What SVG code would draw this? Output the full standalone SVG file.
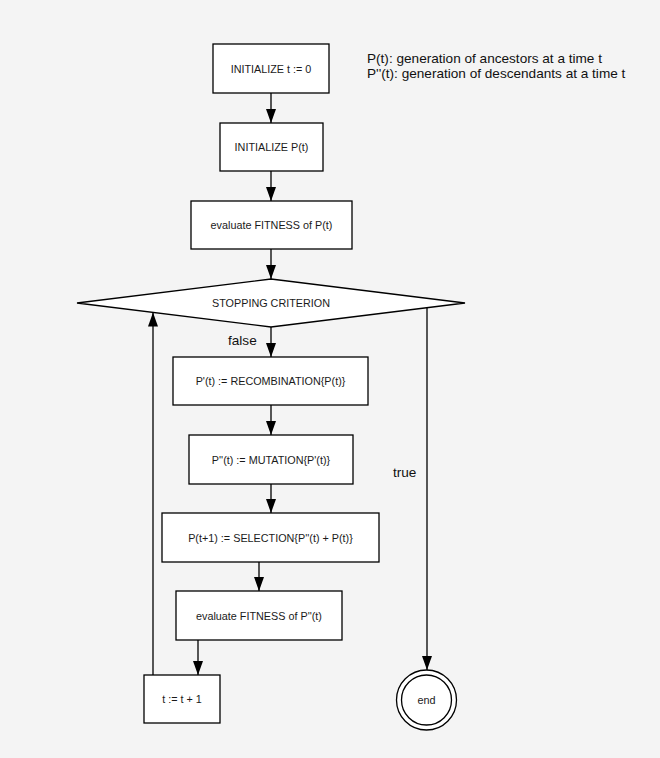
<svg xmlns="http://www.w3.org/2000/svg" width="660" height="758" viewBox="0 0 660 758">
<defs>
<style>
.box{fill:#fff;stroke:#000;stroke-width:1.3}
.t{font-family:"Liberation Sans",Arial,sans-serif;font-size:10.8px;fill:#1a1a1a;text-anchor:middle}
.lab{font-family:"Liberation Sans",Arial,sans-serif;font-size:13.6px;fill:#111}
.c{fill:none;stroke:#000;stroke-width:1.3}
</style>
<marker id="a" viewBox="0 0 14 10" refX="14" refY="5" markerWidth="14" markerHeight="10" markerUnits="userSpaceOnUse" orient="auto">
<path d="M0,0 L14,5 L0,10 Z" fill="#000"/>
</marker>
</defs>
<rect width="660" height="758" fill="#f4f4f4"/>
<g id="legend">
<text class="lab" x="367" y="63">P(t): generation of ancestors at a time t</text>
<text class="lab" x="367" y="78">P''(t): generation of descendants at a time t</text>
</g>
<g id="connectors">
<line class="c" x1="271" y1="93" x2="271" y2="123" marker-end="url(#a)"/>
<line class="c" x1="271" y1="171" x2="271" y2="201" marker-end="url(#a)"/>
<line class="c" x1="271" y1="249" x2="271" y2="279" marker-end="url(#a)"/>
<line class="c" x1="271" y1="327" x2="271" y2="357" marker-end="url(#a)"/>
<line class="c" x1="271" y1="405" x2="271" y2="435" marker-end="url(#a)"/>
<line class="c" x1="271" y1="484" x2="271" y2="513" marker-end="url(#a)"/>
<line class="c" x1="259" y1="562" x2="259" y2="591" marker-end="url(#a)"/>
<line class="c" x1="198" y1="640" x2="198" y2="675" marker-end="url(#a)"/>
<line class="c" x1="153" y1="675" x2="153" y2="312.5" marker-end="url(#a)"/>
<line class="c" x1="427" y1="307.7" x2="427" y2="670" marker-end="url(#a)"/>
<text class="lab" x="228" y="345">false</text>
<text class="lab" x="393" y="477">true</text>
</g>
<g id="init_t">
<rect class="box" x="213" y="44" width="116" height="49"/>
<text class="t" x="271" y="72.5">INITIALIZE t := 0</text>
</g>
<g id="init_p">
<rect class="box" x="220" y="123" width="103" height="48"/>
<text class="t" x="271.5" y="150.5">INITIALIZE P(t)</text>
</g>
<g id="eval1">
<rect class="box" x="191" y="201" width="161" height="48"/>
<text class="t" x="271.5" y="228.5">evaluate FITNESS of P(t)</text>
</g>
<g id="stop">
<polygon class="box" points="77,303 271,279 465,303 271,327"/>
<text class="t" x="271" y="306.5">STOPPING CRITERION</text>
</g>
<g id="recomb">
<rect class="box" x="173" y="357" width="195" height="48"/>
<text class="t" x="270.5" y="384.5">P'(t) := RECOMBINATION{P(t)}</text>
</g>
<g id="mut">
<rect class="box" x="189" y="435" width="164" height="49"/>
<text class="t" x="271" y="463.5">P''(t) := MUTATION{P'(t)}</text>
</g>
<g id="sel">
<rect class="box" x="162" y="513" width="217" height="49"/>
<text class="t" x="270.5" y="541.5">P(t+1) := SELECTION{P''(t) + P(t)}</text>
</g>
<g id="eval2">
<rect class="box" x="176" y="591" width="166" height="49"/>
<text class="t" x="259" y="619.5">evaluate FITNESS of P''(t)</text>
</g>
<g id="inc">
<rect class="box" x="144" y="675" width="76" height="48"/>
<text class="t" x="182" y="702.5">t := t + 1</text>
</g>
<g id="end">
<circle class="box" cx="426.5" cy="700" r="30"/>
<circle class="box" cx="426.5" cy="700" r="25"/>
<text class="t" x="426.5" y="703.5">end</text>
</g>
</svg>
